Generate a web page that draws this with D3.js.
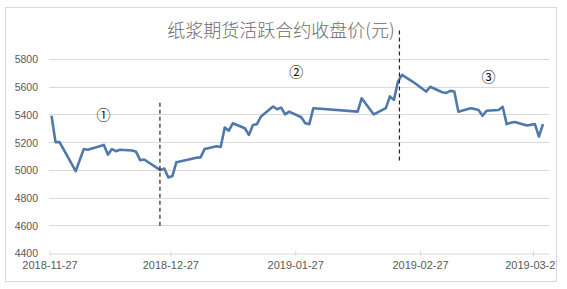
<!DOCTYPE html>
<html>
<head>
<meta charset="utf-8">
<script src="https://cdn.jsdelivr.net/npm/d3@7"></script>
<style>
  body { margin: 0; background: #fff; }
  svg { display: block; }
</style>
</head>
<body>
<div id="wrapper"></div>
<script>
// trading dates and closing prices (yuan)
const dates = [
  "2018-11-27","2018-11-28","2018-11-29","2018-12-03","2018-12-05","2018-12-06",
  "2018-12-10","2018-12-11","2018-12-12","2018-12-13","2018-12-14","2018-12-17",
  "2018-12-18","2018-12-19","2018-12-20","2018-12-24","2018-12-25","2018-12-26",
  "2018-12-27","2018-12-28","2019-01-02","2019-01-03","2019-01-04","2019-01-07",
  "2019-01-08","2019-01-09","2019-01-10","2019-01-11","2019-01-14","2019-01-15",
  "2019-01-16","2019-01-17","2019-01-18","2019-01-21","2019-01-22","2019-01-23",
  "2019-01-24","2019-01-25","2019-01-28","2019-01-29","2019-01-30","2019-01-31",
  "2019-02-01","2019-02-11","2019-02-12","2019-02-15","2019-02-18","2019-02-19",
  "2019-02-20","2019-02-21","2019-02-22","2019-02-25","2019-02-28","2019-03-01",
  "2019-03-04","2019-03-05","2019-03-06","2019-03-07","2019-03-08","2019-03-11",
  "2019-03-12","2019-03-13","2019-03-14","2019-03-15","2019-03-18","2019-03-19",
  "2019-03-20","2019-03-21","2019-03-22","2019-03-25","2019-03-27","2019-03-28",
  "2019-03-29"
]
const closes = [
  5390, 5200, 5200, 4990, 5150, 5145,
  5180, 5110, 5150, 5135, 5145, 5140,
  5130, 5070, 5075, 4998, 5010, 4945,
  4955, 5055, 5088, 5090, 5150, 5170,
  5165, 5305, 5283, 5336, 5300, 5252,
  5324, 5330, 5385, 5457, 5437, 5449,
  5400, 5420, 5380, 5336, 5330, 5445,
  5443, 5420, 5517, 5400, 5445, 5530,
  5505, 5637, 5685, 5630, 5565, 5600,
  5560, 5555, 5570, 5565, 5420, 5445,
  5440, 5432, 5390, 5427, 5432, 5455,
  5330, 5340, 5345, 5320, 5330, 5240,
  5330
]

const yTicks = [4400, 4600, 4800, 5000, 5200, 5400, 5600, 5800]
const xTickLabels = ["2018-11-27", "2018-12-27", "2019-01-27", "2019-02-27", "2019-03-27"]

// phase markers and dividers
const phaseLabels = ["\u2460", "\u2461", "\u2462"]
const phaseDates = ["2018-12-10T10:00", "2019-01-27T06:00", "2019-03-16T00:00"]
const phaseValues = [5400, 5715, 5680]
const dividerDates = ["2018-12-24T10:00", "2019-02-21T21:00"]
const dividerTop = [5485, 6005]
const dividerBottom = [4580, 5050]

const title = "纸浆期货活跃合约收盘价(元)"

const width = 567
const height = 289

const parseDay = d3.timeParse("%Y-%m-%d")
const parseHour = d3.timeParse("%Y-%m-%dT%H:%M")

const data = dates.map((d, i) => ({ date: parseDay(d), close: closes[i] }))

const svg = d3.select("#wrapper")
  .append("svg")
  .attr("width", width)
  .attr("height", height)

svg.append("clipPath").attr("id", "frame")
  .append("rect")
  .attr("x", 5.5).attr("y", 7.5)
  .attr("width", 551).attr("height", 274)

svg.append("rect")
  .attr("x", 5.5).attr("y", 7.5)
  .attr("width", 551).attr("height", 274)
  .attr("fill", "#fff")
  .attr("stroke", "#d9d9d9")

const g = svg.append("g").attr("clip-path", "url(#frame)")

// scales
const xScale = d3.scaleTime()
  .domain([parseDay("2018-11-27"), parseDay("2019-03-31")])
  .range([49.5, 549])

const yScale = d3.scaleLinear()
  .domain([4400, 5800])
  .range([253, 59])

// points sit in the middle of their day
const xPoint = d => xScale(d3.timeHour.offset(d, 12))

// gridlines
g.append("g")
  .selectAll("line")
  .data(yTicks.slice(1))
  .join("line")
  .attr("x1", 49)
  .attr("x2", 549)
  .attr("y1", d => Math.round(yScale(d)) + 0.5)
  .attr("y2", d => Math.round(yScale(d)) + 0.5)
  .attr("stroke", "#d9d9d9")

// y axis labels
const yAxis = g.append("g")
  .attr("transform", "translate(49,0.5)")
  .call(d3.axisLeft(yScale).tickValues(yTicks).tickSize(0).tickPadding(11).tickFormat(d3.format("d")))
yAxis.select(".domain").remove()
yAxis.selectAll("text")
  .attr("fill", "#595959")
  .style("font-family", "'Liberation Sans', Arial, sans-serif")
  .style("font-size", "10.5px")

// x axis
const xAxis = g.append("g")
  .attr("transform", `translate(0,${Math.round(yScale(4400)) + 0.5})`)
  .call(d3.axisBottom(xScale)
    .tickValues(xTickLabels.map(parseDay))
    .tickSizeInner(-4)
    .tickSizeOuter(0)
    .tickPadding(8)
    .tickFormat(d3.timeFormat("%Y-%m-%d")))
xAxis.select(".domain").attr("stroke", "#d9d9d9")
xAxis.selectAll(".tick line").attr("stroke", "#d9d9d9").attr("y2", 3).attr("y1", -3)
xAxis.selectAll("text")
  .attr("fill", "#595959")
  .style("font-family", "'Liberation Sans', Arial, sans-serif")
  .style("font-size", "11px")

// price line
const line = d3.line()
  .x(d => xPoint(d.date))
  .y(d => yScale(d.close))

g.append("path")
  .datum(data)
  .attr("d", line)
  .attr("fill", "none")
  .attr("stroke", "#4f79ad")
  .attr("stroke-width", 2.6)
  .attr("stroke-linejoin", "round")

// dividers
g.append("g")
  .selectAll("line")
  .data(dividerDates)
  .join("line")
  .attr("x1", d => xScale(parseHour(d)))
  .attr("x2", d => xScale(parseHour(d)))
  .attr("y1", (d, i) => yScale(dividerTop[i]))
  .attr("y2", (d, i) => yScale(dividerBottom[i]))
  .attr("stroke", "#222")
  .attr("stroke-width", 1.2)
  .attr("stroke-dasharray", "4,3")

// phase labels
g.append("g")
  .selectAll("text")
  .data(phaseLabels)
  .join("text")
  .attr("x", (d, i) => xScale(parseHour(phaseDates[i])))
  .attr("y", (d, i) => yScale(phaseValues[i]))
  .attr("text-anchor", "middle")
  .attr("dominant-baseline", "central")
  .attr("fill", "#111")
  .style("font-family", "'Noto Sans CJK SC', sans-serif")
  .style("font-size", "14px")
  .text(d => d)

// title
g.append("text")
  .attr("x", 281)
  .attr("y", 37)
  .attr("text-anchor", "middle")
  .attr("fill", "#6b6b6b")
  .style("font-family", "'Noto Sans CJK SC', sans-serif")
  .style("font-size", "18px")
  .style("font-weight", 300)
  .text(title)
</script>
</body>
</html>
